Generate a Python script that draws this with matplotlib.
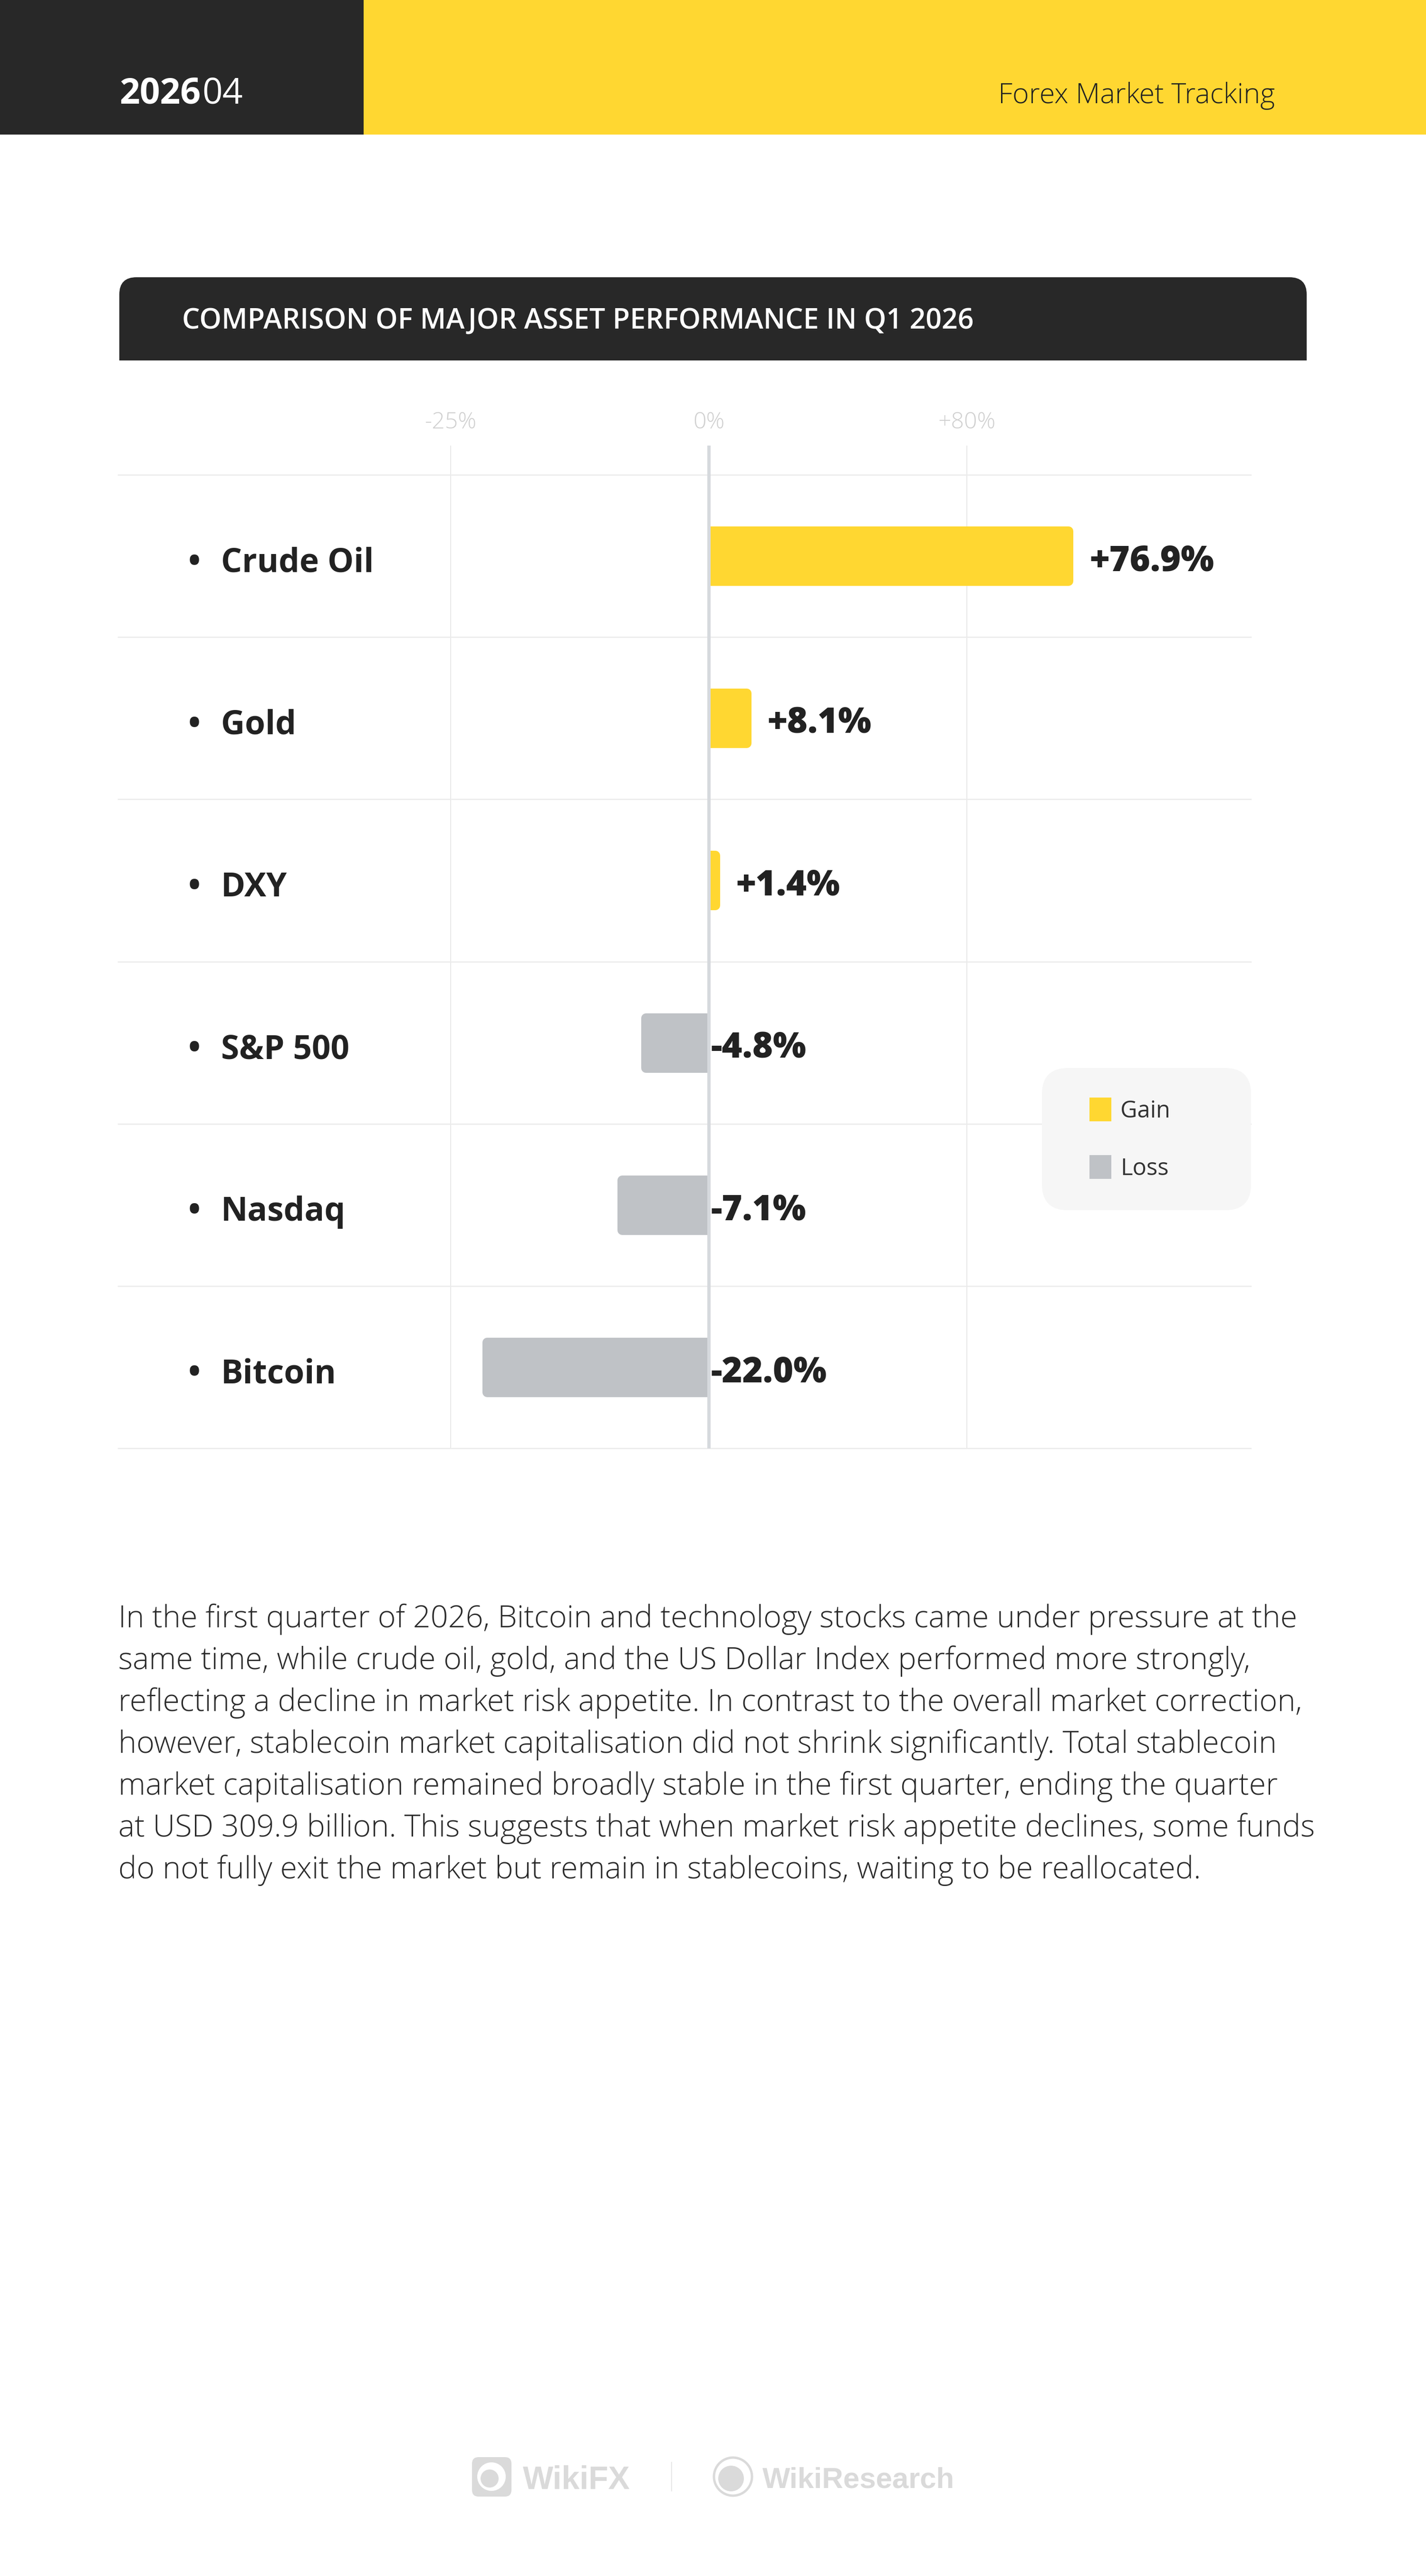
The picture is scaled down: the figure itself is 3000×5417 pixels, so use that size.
import numpy as np
import matplotlib
matplotlib.use("Agg")
import matplotlib.pyplot as plt
from matplotlib import transforms
from matplotlib.patches import FancyBboxPatch, Rectangle, Circle, Patch
from matplotlib.font_manager import FontProperties
from matplotlib.textpath import TextPath

# data
assets = ["Crude Oil", "Gold", "DXY", "S&P 500", "Nasdaq", "Bitcoin"]
returns = [76.9, 8.1, 1.4, -4.8, -7.1, -22.0]
tick_values = [-25, 0, 80]
tick_labels = ["-25%", "0%", "+80%"]
legend_labels = ["Gain", "Loss"]

header_year = "2026"
header_issue = "04"
header_right = "Forex Market Tracking"
title = "COMPARISON OF MAJOR ASSET PERFORMANCE IN Q1 2026"
paragraph = [
    "In the first quarter of 2026, Bitcoin and technology stocks came under pressure at the",
    "same time, while crude oil, gold, and the US Dollar Index performed more strongly,",
    "reflecting a decline in market risk appetite. In contrast to the overall market correction,",
    "however, stablecoin market capitalisation did not shrink significantly. Total stablecoin",
    "market capitalisation remained broadly stable in the first quarter, ending the quarter",
    "at USD 309.9 billion. This suggests that when market risk appetite declines, some funds",
    "do not fully exit the market but remain in stablecoins, waiting to be reallocated.",
]
footer_names = ["WikiFX", "WikiResearch"]

# page + colours
W, H, DPI = 3000, 5417, 100
GAIN = "#FFD731"
LOSS = "#BFC2C6"
DARK = "#282828"
INK = "#222222"
LOGO = "#dadada"

FAMILY = ["Open Sans", "Lato", "DejaVu Sans"]
plt.rcParams["font.family"] = FAMILY


def fit_size(text, width_px, weight="normal", family=FAMILY):
    # font size (pt) that gives the text the wanted ink width in pixels
    fp = FontProperties(family=family, weight=weight)
    w = TextPath((0, 0), text, size=100, prop=fp).get_extents().width
    return 100 * width_px / w * 72 / DPI


px = 72 / DPI  # one pixel in points

fig = plt.figure(figsize=(W / DPI, H / DPI), dpi=DPI)
bg = fig.add_axes([0, 0, 1, 1], zorder=0)
bg.set_xlim(0, W)
bg.set_ylim(H, 0)
bg.axis("off")

# header band
bg.add_patch(Rectangle((0, 0), 765, 283, color=DARK, lw=0))
bg.add_patch(Rectangle((765, 0), W - 765, 283, color=GAIN, lw=0))
hs = fit_size(header_year, 166, "bold")
bg.text(251, 217, header_year, size=hs, weight="bold", color="white", va="baseline")
bg.text(425, 217, header_issue, size=hs, weight="normal", color="white", va="baseline")
bg.text(2100, 217, header_right, size=fit_size(header_right, 575, "light"),
        weight="light", color=INK, va="baseline")

# title bar, rounded on top only
bg.add_patch(FancyBboxPatch((251, 583), 2498, 175, boxstyle="round,pad=0,rounding_size=36",
                            fc=DARK, ec="none"))
bg.add_patch(Rectangle((251, 650), 2498, 108, color=DARK, lw=0))
bg.text(383, 691, title, size=fit_size(title, 1658, "semibold"), weight="semibold",
        color="white", va="baseline")

# chart frame (pixels)
L, R = 249, 2632
TOP, ROW_TOP, BOT = 937, 999, 3046
ZERO = 1491
GUIDE = 543  # distance of the -25% / +80% guides from zero
rect = [L / W, 1 - BOT / H, (R - L) / W, (BOT - TOP) / H]
axg = fig.add_axes(rect, zorder=1)
ax = fig.add_axes(rect, zorder=2)

# bar scale: linear for gains, slightly compressed for losses
POS_K, NEG_K, NEG_P = 9.85, 35.8, 0.83


def bar_fwd(v):
    v = np.asarray(v, float)
    return np.where(v >= 0, POS_K * v, -NEG_K * np.abs(v) ** NEG_P)


def bar_inv(p):
    p = np.asarray(p, float)
    return np.where(p >= 0, p / POS_K, -(np.abs(p) / NEG_K) ** (1 / NEG_P))


# guide scale: the three guide columns are evenly spaced
def grid_fwd(v):
    v = np.asarray(v, float)
    return np.where(v >= 0, v * GUIDE / 80, v * GUIDE / 25)


def grid_inv(p):
    p = np.asarray(p, float)
    return np.where(p >= 0, p * 80 / GUIDE, p * 25 / GUIDE)


axg.set_xscale("function", functions=(grid_fwd, grid_inv))
axg.set_xlim(float(grid_inv(L - ZERO)), float(grid_inv(R - ZERO)))
axg.set_xticks(tick_values, tick_labels, fontweight="light")
axg.xaxis.tick_top()
axg.tick_params(axis="x", length=0, pad=17, labelsize=fit_size("+80%", 116, "light"),
                labelcolor="#d0d0d0")
axg.set_yticks([])
axg.grid(axis="x", color="#e8e8e8", lw=2 * px)
for s in axg.spines.values():
    s.set_visible(False)
axg.patch.set_visible(False)

ax.set_xscale("function", functions=(bar_fwd, bar_inv))
ax.set_xlim(float(bar_inv(L - ZERO)), float(bar_inv(R - ZERO)))
row_px = (BOT - ROW_TOP) / len(assets)
ax.set_ylim(len(assets) - 0.5, -0.5 - (ROW_TOP - TOP) / row_px)
ax.axis("off")

y = np.arange(len(assets))
colors = [GAIN if r >= 0 else LOSS for r in returns]
EDGE = 20
bars = ax.barh(y, returns, height=(125 - EDGE) / row_px, color=colors, edgecolor=colors,
               linewidth=EDGE * px, joinstyle="round", zorder=2)

# keep the rounded edge from spilling over the zero line
xmin, xmax = ax.get_xlim()
half = transforms.blended_transform_factory(ax.transData, ax.transAxes)
pos_clip = Rectangle((0, 0), xmax, 1, transform=half)
neg_clip = Rectangle((xmin, 0), -xmin, 1, transform=half)
for b, r in zip(bars, returns):
    b.set_clip_path(pos_clip if r >= 0 else neg_clip)

for yy in np.arange(len(assets) + 1) - 0.5:
    ax.axhline(yy, color="#ebebeb", lw=2.5 * px, zorder=1, clip_on=False)
ax.axvline(0, color="#d6d9dd", lw=7 * px, zorder=3)

# row labels
lab_tr = transforms.blended_transform_factory(bg.transData, ax.transData)
ls = fit_size("Crude Oil", 312, "bold")
for i, name in enumerate(assets):
    ax.annotate("\u2022", xy=(409, i), xycoords=lab_tr, xytext=(0, -33),
                textcoords="offset pixels", ha="center", va="baseline",
                size=ls, weight="bold", color=INK)
    ax.annotate(name, xy=(465, i), xycoords=lab_tr, xytext=(0, -33),
                textcoords="offset pixels", ha="left", va="baseline",
                size=ls, weight="bold", color=INK)

# value labels
vs = fit_size("+76.9%", 258, "heavy")
for i, r in enumerate(returns):
    if r >= 0:
        xy, dx = (r, i), 44
    else:
        xy, dx = (0, i), 4
    ax.annotate(f"{r:+.1f}%", xy=xy, xytext=(dx, -31), textcoords="offset pixels",
                ha="left", va="baseline", size=vs, weight="heavy", color=INK, zorder=4)

# legend card
ax.add_patch(FancyBboxPatch((2192, 2246), 440, 299, boxstyle="round,pad=0,rounding_size=55",
                            fc="#f6f6f6", ec="none", transform=bg.transData, zorder=4,
                            clip_on=False))
gs = fit_size("Gain", 98, "normal")
gpx = gs / px
handles = [Patch(facecolor=c, edgecolor=c, linewidth=16 * px, joinstyle="round")
           for c in (GAIN, LOSS)]
leg = ax.legend(handles, legend_labels, loc="upper left", bbox_to_anchor=(2300, 2313),
                bbox_transform=bg.transData, frameon=False, fontsize=gs,
                labelcolor="#333333", handlelength=30 / gpx, handleheight=34 / gpx,
                handletextpad=0.55, labelspacing=1.45, borderpad=0, borderaxespad=0)
leg.set_zorder(5)

# commentary
ps = fit_size(paragraph[2], 2482, "light")
for k, line in enumerate(paragraph):
    bg.text(249, 3422 + 88 * k, line, size=ps, weight="light", color="#2b2b2b", va="baseline")

# footer logos
LOGO_FONT = ["Liberation Sans", "DejaVu Sans"]
bg.add_patch(FancyBboxPatch((993, 5167), 83, 83, boxstyle="round,pad=0,rounding_size=14",
                            fc=LOGO, ec="none"))
bg.add_patch(Circle((1034, 5208), 30, fc="white", ec="none"))
bg.add_patch(Circle((1030, 5212), 19, fc=LOGO, ec="none"))
bg.text(1100, 5234, footer_names[0], size=fit_size(footer_names[0], 225, "bold", LOGO_FONT),
        weight="bold", family=LOGO_FONT, color=LOGO, va="baseline")
bg.plot([1413, 1413], [5178, 5238], color="#e6e6e6", lw=2 * px)
bg.add_patch(Circle((1542, 5208), 40, fc="none", ec=LOGO, lw=5 * px))
bg.add_patch(Circle((1538, 5212), 27, fc=LOGO, ec="none"))
bg.text(1604, 5232, footer_names[1], size=fit_size(footer_names[1], 401, "bold", LOGO_FONT),
        weight="bold", family=LOGO_FONT, color=LOGO, va="baseline")

fig.savefig("out.png", dpi=DPI, facecolor="white")
